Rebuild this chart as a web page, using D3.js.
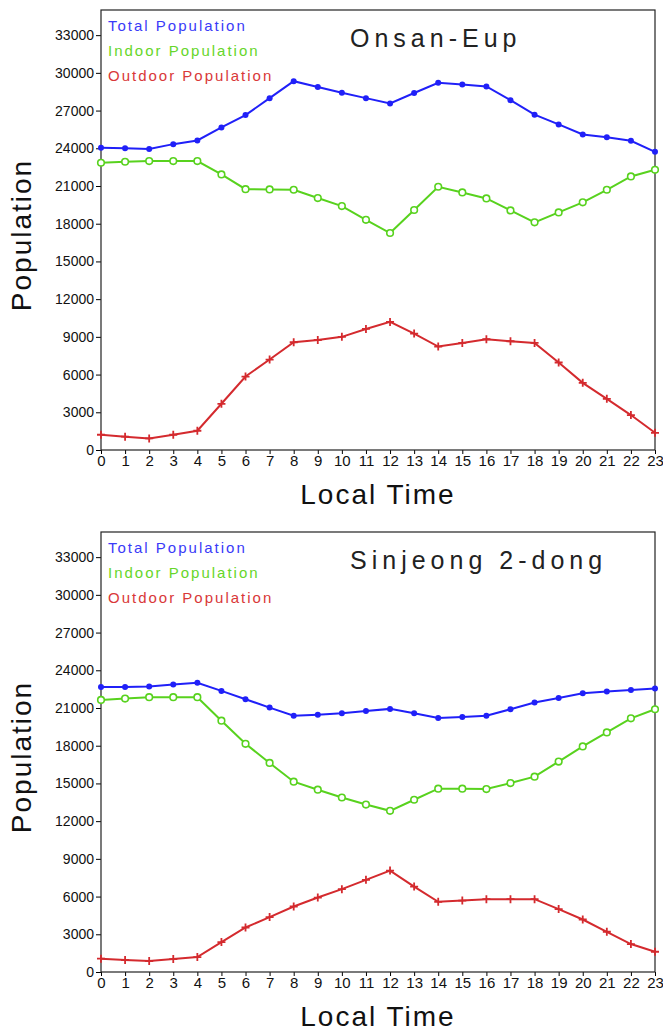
<!DOCTYPE html>
<html>
<head>
<meta charset="utf-8">
<script src="https://cdn.jsdelivr.net/npm/d3@7"></script>
<style>
  body { margin: 0; background: #fff; }
  text { font-family: "Liberation Sans", "DejaVu Sans", sans-serif; }
</style>
</head>
<body>
<script>
// hours of the day
const hours = d3.range(0, 24)
const yTicks = [0, 3000, 6000, 9000, 12000, 15000, 18000, 21000, 24000, 27000, 30000, 33000]

const onsanTotal = [24050, 24000, 23950, 24330, 24620, 25660, 26640, 27990, 29340, 28870, 28410, 27990,
    27570, 28400, 29210, 29080, 28920, 27830, 26670, 25900, 25100, 24870, 24600, 23720]
const onsanIndoor = [22850, 22930, 22980, 22980, 22980, 21920, 20750, 20730, 20700, 20040, 19400, 18310,
    17260, 19090, 20940, 20490, 20010, 19060, 18110, 18900, 19700, 20700, 21760, 22290]
const onsanOutdoor = [1215, 1056, 921, 1215, 1532, 3676, 5844, 7195, 8570, 8750, 9000, 9630,
    10190, 9260, 8230, 8520, 8810, 8650, 8520, 6960, 5340, 4070, 2780, 1370]

const sinjeongTotal = [22680, 22680, 22710, 22870, 23000, 22360, 21700, 21030, 20390, 20470, 20580, 20770,
    20930, 20580, 20210, 20290, 20390, 20900, 21440, 21800, 22170, 22320, 22440, 22550]
const sinjeongIndoor = [21640, 21750, 21860, 21860, 21860, 19990, 18150, 16630, 15140, 14500, 13880, 13320,
    12820, 13700, 14580, 14580, 14550, 15030, 15540, 16740, 17940, 19060, 20180, 20900]
const sinjeongOutdoor = [1056, 953, 873, 1032, 1191, 2382, 3541, 4367, 5209, 5923, 6590, 7329,
    8067, 6797, 5582, 5685, 5796, 5796, 5796, 5002, 4176, 3200, 2223, 1612]

const legendLabels = ["Total Population", "Indoor Population", "Outdoor Population"]
const lineColors = ["#2020f8", "#58d21e", "#d42a2e"]
const textColors = ["#3a3af8", "#66d62a", "#d93838"]

const W = 663, H = 1031
const margin = { top: 10, left: 101, right: 8 }
const plotW = 655 - margin.left
const plotH = 440
const panelGap = 522

const svg = d3.select('body')
    .append('svg')
    .attr('width', W)
    .attr('height', H)

const x = d3.scaleLinear().domain([0, 23]).range([0, plotW])
const y = d3.scaleLinear().domain([0, 35000]).range([plotH, 0])

function drawPanel(offsetY, title, total, indoor, outdoor) {
    const g = svg.append('g')
        .attr("transform", `translate(${margin.left},${margin.top + offsetY})`)

    // y axis
    const ya = g.append('g').call(d3.axisLeft(y).tickValues(yTicks).tickFormat(d3.format('d')).tickSize(5).tickPadding(2))
    ya.select('.domain').remove()
    ya.selectAll('text').style('font-size', '14px').attr('fill', '#111')

    // x axis
    const xa = g.append('g')
        .attr("transform", `translate(0, ${plotH})`)
        .call(d3.axisBottom(x).tickValues(hours).tickFormat(d3.format('d')).tickSize(4).tickPadding(1))
    xa.select('.domain').remove()
    xa.selectAll('text')
        .style('font-size', '15px')
        .style('font-family', '"Liberation Sans Narrow", "Liberation Sans", sans-serif')
        .attr('fill', '#111')

    // frame
    g.append('rect')
        .attr('width', plotW)
        .attr('height', plotH)
        .attr('fill', 'none')
        .attr('stroke', '#222')
        .attr('stroke-width', 1.2)

    const line = d3.line()
        .x((d, i) => x(hours[i]))
        .y(d => y(d))

    const series = [total, indoor, outdoor]
    series.forEach(function (s, k) {
        g.append('path')
            .datum(s)
            .attr('d', line)
            .attr('fill', 'none')
            .attr('stroke', lineColors[k])
            .attr('stroke-width', 2)
    })

    // markers
    g.selectAll('.dot')
        .data(total)
        .join('circle')
        .attr('cx', (d, i) => x(hours[i]))
        .attr('cy', d => y(d))
        .attr('r', 3)
        .attr('fill', lineColors[0])

    g.selectAll('.ring')
        .data(indoor)
        .join('circle')
        .attr('cx', (d, i) => x(hours[i]))
        .attr('cy', d => y(d))
        .attr('r', 3.3)
        .attr('fill', '#fff')
        .attr('stroke', lineColors[1])
        .attr('stroke-width', 1.6)

    g.selectAll('.plus')
        .data(outdoor)
        .join('path')
        .attr('d', (d, i) => {
            const cx = x(hours[i]), cy = y(d)
            return `M${cx - 4},${cy}H${cx + 4}M${cx},${cy - 4}V${cy + 4}`
        })
        .attr('stroke', lineColors[2])
        .attr('stroke-width', 1.8)

    // legend
    legendLabels.forEach(function (l, k) {
        g.append('text')
            .attr('x', 7)
            .attr('y', 21 + k * 25)
            .attr('fill', textColors[k])
            .style('font-size', '15px')
            .style('letter-spacing', '2px')
            .text(l)
    })

    // title
    g.append('text')
        .attr('x', 249)
        .attr('y', 37)
        .attr('fill', '#222')
        .style('font-size', '25px')
        .style('letter-spacing', '5px')
        .text(title)

    // axis titles
    g.append('text')
        .attr('transform', `translate(${-70},${plotH / 2 + 5}) rotate(-90)`)
        .attr('text-anchor', 'middle')
        .attr('fill', '#111')
        .style('font-size', '28px')
        .style('letter-spacing', '2px')
        .text('Population')

    g.append('text')
        .attr('x', plotW / 2)
        .attr('y', plotH + 54)
        .attr('text-anchor', 'middle')
        .attr('fill', '#111')
        .style('font-size', '28px')
        .style('letter-spacing', '2px')
        .text('Local Time')
}

drawPanel(0, 'Onsan-Eup', onsanTotal, onsanIndoor, onsanOutdoor)
drawPanel(panelGap, 'Sinjeong 2-dong', sinjeongTotal, sinjeongIndoor, sinjeongOutdoor)
</script>
</body>
</html>
